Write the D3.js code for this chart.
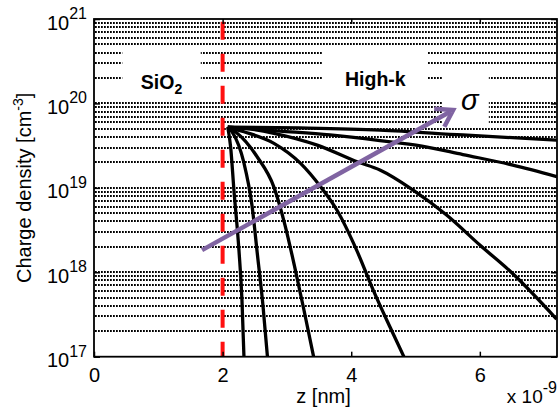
<!DOCTYPE html>
<html>
<head>
<meta charset="utf-8">
<script src="https://cdn.jsdelivr.net/npm/d3@7"></script>
<style>
  html, body { margin: 0; padding: 0; background: #fff; }
  svg { display: block; }
  text { font-family: "Liberation Sans", Arial, sans-serif; fill: #000; }
</style>
</head>
<body>
<svg id="chart" width="559" height="413"></svg>
<script>
// Charge density n(z) through the SiO2 / high-k stack, one profile per sigma value.

const zTicks = [0, 2, 4, 6];                       // z in nm (axis multiplier x 10^-9)
const decadeTicks = [1e17, 1e18, 1e19, 1e20, 1e21]; // cm^-3
const interfaceZ = 2;                                // SiO2 / high-k interface, nm

// profiles, from the steepest (smallest sigma) to the flattest (largest sigma)
const z1 = [2.08, 2.125, 2.176, 2.254, 2.301, 2.332];
const n1 = [5.25e19, 3.04e19, 9.42e18, 1.83e18, 4.69e17, 1.0e17];

const z2 = [2.08, 2.15, 2.332, 2.456, 2.542, 2.627, 2.697];
const n2 = [5.25e19, 4.58e19, 1.97e19, 6.25e18, 1.60e18, 4.08e17, 1.0e17];

const z3 = [2.08, 2.203, 2.539, 2.798, 2.969, 3.124, 3.264, 3.415];
const n3 = [5.25e19, 4.58e19, 2.32e19, 1.02e19, 3.65e18, 1.13e18, 3.6e17, 1.0e17];

const z4 = [2.08, 2.332, 2.798, 3.213, 3.524, 3.777, 4.084, 4.342, 4.601, 4.819];
const n4 = [5.25e19, 4.62e19, 3.37e19, 1.95e19, 1.03e19, 5.46e18, 1.83e18, 6.15e17, 2.26e17, 1.0e17];

const z5 = [2.08, 2.425, 2.798, 3.471, 4.104, 4.446, 4.963, 5.483, 6.0, 6.518, 7.193];
const n5 = [5.25e19, 4.98e19, 4.43e19, 3.21e19, 2.02e19, 1.63e19, 9.42e18, 4.76e18, 2.10e18, 9.53e17, 2.79e17];

const z6 = [2.08, 2.891, 3.669, 4.446, 5.099, 5.736, 6.513, 7.197];
const n6 = [5.25e19, 4.71e19, 4.23e19, 3.63e19, 3.13e19, 2.48e19, 1.86e19, 1.36e19];

const z7 = [2.08, 3.202, 4.446, 5.736, 7.197];
const n7 = [5.25e19, 5.12e19, 4.84e19, 4.23e19, 3.68e19];

const profiles = [[z1, n1], [z2, n2], [z3, n3], [z4, n4], [z5, n5], [z6, n6], [z7, n7]];

// annotation anchors, in data units (z nm, n cm^-3)
const sigmaArrowFrom = [1.68, 1.83e18];
const sigmaArrowTo = [5.585, 8.36e19];
const regionLabels = [
  { name: "SiO", sub: "2", z0: 0.44, z1: 1.66, nTop: 4.9e20, nBottom: 1.22e20, nText: 1.5e20 },
  { name: "High-k", sub: "", z0: 3.56, z1: 5.19, nTop: 4.9e20, nBottom: 1.22e20, nText: 1.6e20 }
];
const sigmaBox = { z0: 5.425, z1: 6.14, nTop: 2.5e20, nBottom: 5.6e19 };

const W = 559, H = 413;
const margin = { left: 94, top: 19, right: 2, bottom: 56.3 };
const x0 = margin.left, x1 = W - margin.right;
const y0 = H - margin.bottom, y1 = margin.top;

const x = d3.scaleLinear().domain([0, 7.2]).range([x0, x1]);
const y = d3.scaleLog().domain([1e17, 1e21]).range([y0, y1]);

const svg = d3.select("#chart");

svg.append("defs").append("clipPath").attr("id", "plot-clip")
  .append("rect").attr("x", x0).attr("y", y1).attr("width", x1 - x0).attr("height", y0 - y1);

// dotted horizontal grid on every major and minor decade step
const gridValues = [];
for (let e = 17; e < 21; e++) {
  for (let m = 1; m <= 9; m++) gridValues.push(m * Math.pow(10, e));
}

const grid = svg.append("g").attr("clip-path", "url(#plot-clip)");
grid.selectAll("line").data(gridValues.filter(v => v > 1e17)).join("line")
  .attr("x1", x0 + 1).attr("x2", x1)
  .attr("y1", d => Math.round(y(d))).attr("y2", d => Math.round(y(d)))
  .attr("stroke", "#000").attr("stroke-width", 1.8)
  .attr("stroke-dasharray", "1.8,1.2");

// white label panels
const panels = svg.append("g");
regionLabels.forEach(r => {
  panels.append("rect")
    .attr("x", x(r.z0)).attr("y", y(r.nTop))
    .attr("width", x(r.z1) - x(r.z0)).attr("height", y(r.nBottom) - y(r.nTop))
    .attr("fill", "#fff");
});
panels.append("rect")
  .attr("x", x(sigmaBox.z0)).attr("y", y(sigmaBox.nTop))
  .attr("width", x(sigmaBox.z1) - x(sigmaBox.z0)).attr("height", y(sigmaBox.nBottom) - y(sigmaBox.nTop))
  .attr("fill", "#fff");

// charge density profiles
const line = d3.line()
  .x(d => x(d[0]))
  .y(d => y(d[1]))
  .curve(d3.curveMonotoneX);

svg.append("g").attr("clip-path", "url(#plot-clip)")
  .selectAll("path").data(profiles).join("path")
  .attr("d", p => line(p[0].map((z, i) => [z, p[1][i]])))
  .attr("fill", "none").attr("stroke", "#000").attr("stroke-width", 3.3)
  .attr("stroke-linejoin", "round");

// SiO2 / high-k interface
svg.append("line")
  .attr("x1", x(interfaceZ)).attr("x2", x(interfaceZ))
  .attr("y1", y1).attr("y2", y0)
  .attr("stroke", "#ff1010").attr("stroke-width", 4)
  .attr("stroke-dasharray", "18,14").attr("stroke-dashoffset", 29.3);

// frame
svg.append("rect")
  .attr("x", x0).attr("y", y1).attr("width", x1 - x0).attr("height", y0 - y1)
  .attr("fill", "none").attr("stroke", "#000").attr("stroke-width", 1.8);

// axes
const axisFont = "'Liberation Sans', Arial, sans-serif";

const gx = svg.append("g").attr("transform", `translate(0,${y0})`)
  .call(d3.axisBottom(x).tickValues(zTicks).tickSizeInner(-5).tickSizeOuter(0).tickPadding(11)
    .tickFormat(d3.format("d")));
gx.select(".domain").remove();
gx.attr("font-size", 20).attr("font-family", axisFont);
gx.selectAll(".tick line").attr("stroke-width", 1.5);

const gxTop = svg.append("g").attr("transform", `translate(0,${y1})`)
  .call(d3.axisTop(x).tickValues(zTicks).tickSizeInner(-5).tickSizeOuter(0).tickFormat(""));
gxTop.select(".domain").remove();
gxTop.selectAll(".tick line").attr("stroke-width", 1.5);

const gy = svg.append("g").attr("transform", `translate(${x0},0)`)
  .call(d3.axisLeft(y).tickValues(decadeTicks).tickSizeInner(-6).tickSizeOuter(0).tickPadding(7)
    .tickFormat(() => "10"));
gy.select(".domain").remove();
gy.attr("font-size", 20).attr("font-family", axisFont);
gy.selectAll(".tick line").attr("stroke-width", 1.5);
gy.selectAll(".tick text")
  .attr("dy", null).attr("y", 10)
  .append("tspan")
  .attr("font-size", 16).attr("dy", -10.5)
  .text(d => Math.round(Math.log10(d)));

const gyRight = svg.append("g").attr("transform", `translate(${x1},0)`)
  .call(d3.axisRight(y).tickValues(decadeTicks).tickSizeInner(-6).tickSizeOuter(0).tickFormat(""));
gyRight.select(".domain").remove();
gyRight.selectAll(".tick line").attr("stroke-width", 1.5);

// axis titles
svg.append("text")
  .attr("x", (x0 + x1) / 2 - 2).attr("y", 403)
  .attr("text-anchor", "middle").attr("font-size", 20)
  .text("z [nm]");

const mult = svg.append("text")
  .attr("x", 557).attr("y", 403)
  .attr("text-anchor", "end").attr("font-size", 19)
  .text("x 10");
mult.append("tspan").attr("font-size", 16).attr("dy", -10).text("-9");

const ylab = svg.append("text")
  .attr("transform", `translate(31,${(y0 + y1) / 2}) rotate(-90)`)
  .attr("text-anchor", "middle").attr("font-size", 20)
  .text("Charge density [cm");
ylab.append("tspan").attr("font-size", 14).attr("dy", -8).text("-3");
ylab.append("tspan").attr("dy", 8).text("]");

// region labels
regionLabels.forEach(r => {
  const t = svg.append("text")
    .attr("x", (x(r.z0) + x(r.z1)) / 2).attr("y", y(r.nText))
    .attr("text-anchor", "middle")
    .attr("font-family", "Lato, 'Open Sans', sans-serif")
    .attr("font-weight", 700).attr("font-size", 19.5)
    .text(r.name);
  if (r.sub) {
    t.append("tspan").attr("font-size", 14).attr("dy", 5).text(r.sub);
  }
});

// sigma sweep arrow
const ax0 = x(sigmaArrowFrom[0]), ay0 = y(sigmaArrowFrom[1]);
const ax1 = x(sigmaArrowTo[0]), ay1 = y(sigmaArrowTo[1]);
const ang = Math.atan2(ay1 - ay0, ax1 - ax0);
const headLen = 19, spread = 0.58;
const arrowColor = "#8064a2";

svg.append("line")
  .attr("x1", ax0).attr("y1", ay0)
  .attr("x2", ax1 - 3 * Math.cos(ang)).attr("y2", ay1 - 3 * Math.sin(ang))
  .attr("stroke", arrowColor).attr("stroke-width", 4.5);

svg.append("path")
  .attr("d", `M${ax1 - headLen * Math.cos(ang - spread)},${ay1 - headLen * Math.sin(ang - spread)}` +
             `L${ax1},${ay1}` +
             `L${ax1 - headLen * Math.cos(ang + spread)},${ay1 - headLen * Math.sin(ang + spread)}`)
  .attr("fill", "none").attr("stroke", arrowColor).attr("stroke-width", 4.5)
  .attr("stroke-linejoin", "miter").attr("stroke-miterlimit", 10);

svg.append("text")
  .attr("x", (x(sigmaBox.z0) + x(sigmaBox.z1)) / 2 + 4).attr("y", 110)
  .attr("text-anchor", "middle")
  .attr("font-family", "'DejaVu Serif', serif")
  .attr("font-style", "italic").attr("font-size", 29)
  .text("σ");
</script>
</body>
</html>
